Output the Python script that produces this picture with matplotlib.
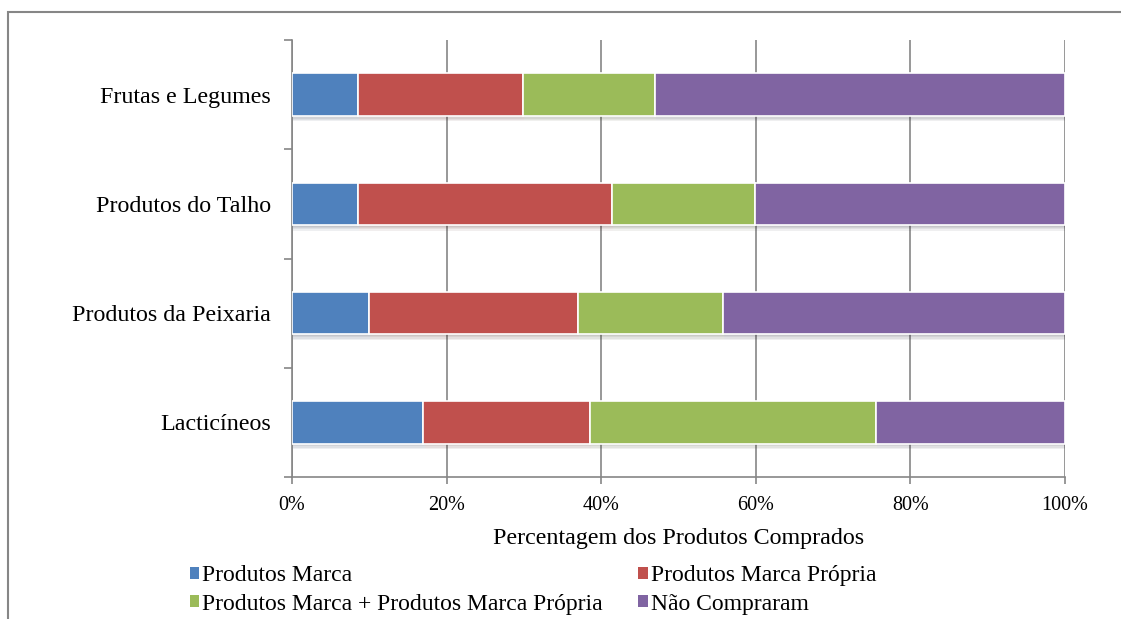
import matplotlib.pyplot as plt
import matplotlib.patheffects as pe
from matplotlib.patches import Rectangle
import numpy as np

plt.rcParams['font.family'] = ['Liberation Serif', 'DejaVu Serif']

categorias = ['Lacticíneos', 'Produtos da Peixaria', 'Produtos do Talho', 'Frutas e Legumes']
series = ['Produtos Marca', 'Produtos Marca Própria',
          'Produtos Marca + Produtos Marca Própria', 'Não Compraram']
marca = [17.0, 9.9, 8.5, 8.5]
marca_propria = [21.5, 27.1, 32.9, 21.4]
ambos = [37.1, 18.7, 18.5, 17.1]
nao_compraram = [24.4, 44.3, 40.1, 53.0]
cores = ['#4F81BD', '#C0504D', '#9BBB59', '#8064A2']
ticks_x = [0, 20, 40, 60, 80, 100]

fig = plt.figure(figsize=(11.21, 6.19), dpi=100)
ax = fig.add_axes([292 / 1121, 1 - 477 / 619, 773 / 1121, 437 / 619])

# moldura exterior do gráfico
fig.patches.append(Rectangle((8 / 1121, -0.1), 1.2, 1.1 - 12 / 619,
                             transform=fig.transFigure, fill=False,
                             edgecolor='#868686', linewidth=1.5))

# sombra suave por baixo das barras
sombra = [pe.SimplePatchShadow(offset=(0.8, -d), alpha=0.07) for d in (1.0, 2.0, 3.0, 4.0)]

y = np.arange(len(categorias))
esquerda = np.zeros(len(categorias))
for valores, nome, cor in zip([marca, marca_propria, ambos, nao_compraram], series, cores):
    b = ax.barh(y, valores, left=esquerda, height=0.39, color=cor,
                edgecolor='white', linewidth=1.2, zorder=3)
    for p in b:
        p.set_path_effects(sombra + [pe.Normal()])
    esquerda += np.array(valores)

ax.set_xlim(0, 100)
ax.set_ylim(-0.5, len(categorias) - 0.5)
ax.set_xticks(ticks_x)
ax.set_xticklabels([f'{t}%' for t in ticks_x], fontsize=14.5)
ax.xaxis.grid(True, color='#868686', linewidth=1.2, zorder=0)
ax.set_axisbelow(True)

ax.set_yticks(np.arange(-0.5, len(categorias), 1.0))
ax.set_yticklabels([])
ax.set_yticks(y, minor=True)
ax.set_yticklabels(categorias, minor=True, fontsize=17.3)
ax.tick_params(axis='y', which='major', length=6, color='#868686', width=1.2)
ax.tick_params(axis='y', which='minor', length=0, pad=15)
ax.tick_params(axis='x', length=5, color='#868686', width=1.2, pad=9)

for lado in ['top', 'right']:
    ax.spines[lado].set_visible(False)
for lado in ['left', 'bottom']:
    ax.spines[lado].set_color('#868686')
    ax.spines[lado].set_linewidth(1.2)

ax.set_xlabel('Percentagem dos Produtos Comprados', fontsize=17.3, labelpad=9)

# legenda em duas colunas, preenchida por linhas
ordem = [0, 2, 1, 3]
handles = [Rectangle((0, 0), 1, 1, facecolor=cores[i], edgecolor='none') for i in ordem]
labels = [series[i] for i in ordem]
fig.legend(handles, labels, ncol=2, loc='center left',
           bbox_to_anchor=(190 / 1121, 1 - 590 / 619), frameon=False,
           fontsize=17, handlelength=0.4, handleheight=0.4,
           handletextpad=0.12, columnspacing=1.5, labelspacing=0.3,
           borderpad=0, borderaxespad=0)

fig.savefig('out.png', dpi=100)
